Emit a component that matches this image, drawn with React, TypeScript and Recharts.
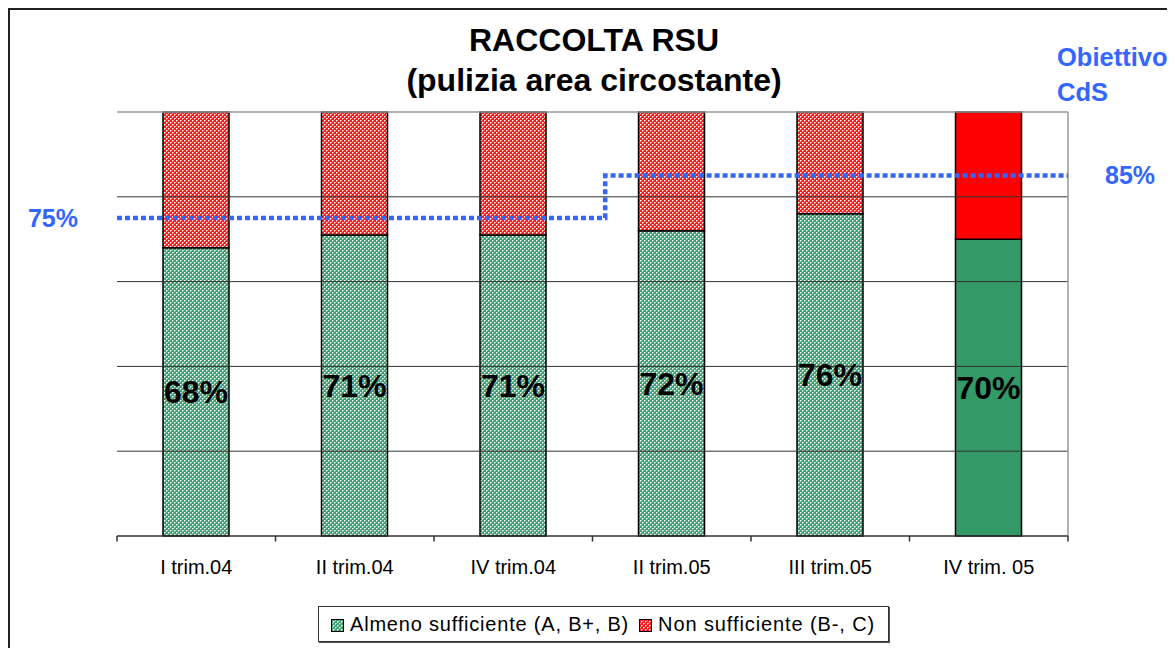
import React from 'react';
import { ComposedChart, Bar, Line, XAxis, YAxis, ReferenceLine, LabelList, Cell } from 'recharts';

// Trimestri rilevati
const periods = ['I trim.04', 'II trim.04', 'IV trim.04', 'II trim.05', 'III trim.05', 'IV trim. 05'];
// % giudizi almeno sufficienti (A, B+, B)
const almeno = [68, 71, 71, 72, 76, 70];
// % giudizi non sufficienti (B-, C)
const nonSuff = [32, 29, 29, 28, 24, 30];
// solo l'ultimo trimestre ha il riempimento pieno
const solidFill = [false, false, false, false, false, true];

// Obiettivo CdS (gradino a metà periodo)
const targetX = [0, 3.08, 3.08, 6];
const targetY = [75, 75, 85, 85];

const gridValues = [20, 40, 60, 80];
const xBounds = [0, 1, 2, 3, 4, 5, 6];

const data = periods.map((p, i) => ({ name: p, almeno: almeno[i], non: nonSuff[i] }));
const targetData = targetX.map((x, i) => ({ x, obiettivo: targetY[i] }));

const FONT = '"Liberation Sans", Arial, sans-serif';
const BLUE = '#3366FF';

const Patterns = () => (
  <defs>
    <pattern id="verde" width="4" height="4" patternUnits="userSpaceOnUse">
      <rect width="4" height="4" fill="#3f9f72" />
      <rect x="0" y="0" width="1" height="1" fill="#ffffff" />
      <rect x="2" y="2" width="1" height="1" fill="#ffffff" />
      <rect x="1" y="0" width="1" height="1" fill="#a8d6bf" />
      <rect x="0" y="1" width="1" height="1" fill="#a8d6bf" />
      <rect x="3" y="2" width="1" height="1" fill="#a8d6bf" />
      <rect x="2" y="3" width="1" height="1" fill="#a8d6bf" />
    </pattern>
    <pattern id="rosso" width="4" height="4" patternUnits="userSpaceOnUse">
      <rect width="4" height="4" fill="#ff1a1a" />
      <rect x="0" y="0" width="1" height="1" fill="#ffffff" />
      <rect x="2" y="2" width="1" height="1" fill="#ffffff" />
      <rect x="1" y="0" width="1" height="1" fill="#ff9a9a" />
      <rect x="0" y="1" width="1" height="1" fill="#ff9a9a" />
      <rect x="3" y="2" width="1" height="1" fill="#ff9a9a" />
      <rect x="2" y="3" width="1" height="1" fill="#ff9a9a" />
    </pattern>
  </defs>
);

const LegendSwatch = ({ fill }: { fill: string }) => (
  <svg width="13" height="13" style={{ verticalAlign: 'middle', marginRight: 6 }}>
    <Patterns />
    <rect x="0.5" y="0.5" width="12" height="12" fill={fill} stroke="#000" />
  </svg>
);

export default function App() {
  return (
    <div
      style={{
        position: 'relative',
        width: 1162,
        height: 660,
        boxSizing: 'border-box',
        border: '2px solid #222',
        fontFamily: FONT,
        background: '#fff',
      }}
    >
      <div style={{ position: 'absolute', left: 0, top: 10, width: 1168, textAlign: 'center', fontWeight: 'bold', fontSize: 32, lineHeight: '40px', color: '#000' }}>
        RACCOLTA RSU
        <br />
        (pulizia area circostante)
      </div>
      <div style={{ position: 'absolute', left: 1047, top: 30, fontWeight: 'bold', fontSize: 25.5, lineHeight: '35px', color: BLUE, zIndex: 2, whiteSpace: 'nowrap' }}>
        Obiettivo
        <br />
        CdS
      </div>

      <ComposedChart
        width={1158}
        height={656}
        data={data}
        margin={{ top: 102, right: 100, left: 107, bottom: 90 }}
        barSize={66}
      >
        <Patterns />
        <YAxis domain={[0, 100]} tick={false} tickLine={false} width={0} axisLine={{ stroke: '#333', strokeWidth: 1.5 }} />
        <XAxis xAxisId="t" type="number" dataKey="x" domain={[0, 6]} hide allowDataOverflow />
        <XAxis
          dataKey="name"
          axisLine={{ stroke: '#333', strokeWidth: 1.5 }}
          tickLine={false}
          tickSize={0}
          tickMargin={24}
          height={40}
          interval={0}
          tick={{ fill: '#000', fontSize: 20, fontFamily: FONT }}
        />
        {gridValues.map((v) => (
          <ReferenceLine key={`grid-${v}`} y={v} stroke="#333" strokeWidth={1} />
        ))}
        <ReferenceLine y={100} stroke="#999" strokeWidth={1.5} />
        <ReferenceLine x={6} xAxisId="t" stroke="#999" strokeWidth={1.5} />
        {/* tacche dell'asse tra una categoria e l'altra */}
        {xBounds.map((b) => (
          <ReferenceLine
            key={`tick-${b}`}
            xAxisId="t"
            ifOverflow="visible"
            segment={[{ x: b, y: 0 }, { x: b, y: -1.3 }]}
            stroke="#333"
            strokeWidth={1.5}
          />
        ))}
        <ReferenceLine
          y={75}
          stroke="none"
          label={{ value: '75%', position: 'left', offset: 39, fill: BLUE, fontSize: 25, fontWeight: 'bold', fontFamily: FONT }}
        />
        <ReferenceLine
          y={85}
          xAxisId="t"
          stroke="none"
          label={{ value: '85%', position: 'right', offset: 37, fill: BLUE, fontSize: 25, fontWeight: 'bold', fontFamily: FONT }}
        />
        <Bar dataKey="almeno" stackId="a" stroke="#000" strokeWidth={1.5} isAnimationActive={false}>
          {data.map((d, i) => (
            <Cell key={`g-${i}`} fill={solidFill[i] ? '#339966' : 'url(#verde)'} />
          ))}
          <LabelList
            dataKey="almeno"
            position="center"
            formatter={(v: any) => `${v}%`}
            fill="#000"
            fontSize={32}
            fontWeight="bold"
            fontFamily={FONT}
          />
        </Bar>
        <Bar dataKey="non" stackId="a" stroke="#000" strokeWidth={1.5} isAnimationActive={false}>
          {data.map((d, i) => (
            <Cell key={`r-${i}`} fill={solidFill[i] ? '#ff0000' : 'url(#rosso)'} />
          ))}
        </Bar>
        <Line
          xAxisId="t"
          data={targetData}
          dataKey="obiettivo"
          type="linear"
          stroke={BLUE}
          strokeWidth={4.5}
          strokeDasharray="5 3"
          dot={false}
          activeDot={false}
          isAnimationActive={false}
        />
      </ComposedChart>

      <div
        style={{
          position: 'absolute',
          left: 308,
          top: 596,
          width: 571,
          height: 36,
          boxSizing: 'border-box',
          border: '1px solid #333',
          boxShadow: '1px 1px 0 #555',
          fontSize: 20,
          lineHeight: '34px',
          paddingLeft: 12,
          whiteSpace: 'nowrap',
          color: '#000',
        }}
      >
        <LegendSwatch fill="url(#verde)" />
        <span style={{ marginRight: 10, letterSpacing: 0.8 }}>Almeno sufficiente (A, B+, B)</span>
        <LegendSwatch fill="url(#rosso)" />
        <span style={{ letterSpacing: 0.9 }}>Non sufficiente (B-, C)</span>
      </div>
    </div>
  );
}
